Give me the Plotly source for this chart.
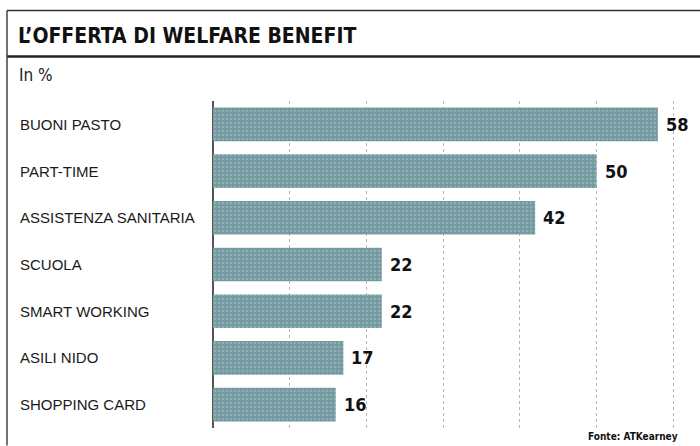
import plotly.graph_objects as go

categories = ["BUONI PASTO", "PART-TIME", "ASSISTENZA SANITARIA", "SCUOLA",
              "SMART WORKING", "ASILI NIDO", "SHOPPING CARD"]
values = [58, 50, 42, 22, 22, 17, 16]
title_text = "L\u2019OFFERTA DI WELFARE BENEFIT"
subtitle_text = "In %"
source_text = "Fonte: ATKearney"

W, H = 700, 446
L, R, T, B = 213, 3, 100.6, 17.6
pw, ph = W - L - R, H - T - B

def px(x):
    return (x - L) / pw

def py(y):
    return (H - B - y) / ph

bar_color = "#7299a0"
cond = "DejaVu Sans Condensed, sans-serif"
label_font = "Liberation Sans, Arial, sans-serif"

fig = go.Figure(go.Bar(
    x=values, y=categories, orientation="h",
    marker=dict(color=bar_color, line=dict(width=0),
                pattern=dict(shape=".", fgcolor="#a9c3c6", bgcolor=bar_color, size=4, solidity=0.35)),
    width=0.72, hoverinfo="skip",
))

annotations = []
for c, v in zip(categories, values):
    annotations.append(dict(x=v, y=c, xref="x", yref="y", text=str(v), showarrow=False,
                            xanchor="left", xshift=6,
                            font=dict(family=cond, size=18, color="#111111", weight="bold")))
    annotations.append(dict(x=px(18), y=c, xref="paper", yref="y", text=c, showarrow=False,
                            xanchor="left", font=dict(family=label_font, size=15, color="#1a1a1a")))

annotations += [
    dict(x=px(16), y=py(35), xref="paper", yref="paper", text=title_text, showarrow=False,
         xanchor="left", yanchor="middle",
         font=dict(family=cond, size=21, color="#111111", weight="bold")),
    dict(x=px(17), y=py(75), xref="paper", yref="paper", text=subtitle_text, showarrow=False,
         xanchor="left", yanchor="middle", font=dict(family=cond, size=17, color="#222222")),
    dict(x=px(680), y=py(437), xref="paper", yref="paper", text=source_text, showarrow=False,
         xanchor="right", yanchor="middle", font=dict(family=cond, size=10, color="#111111", weight="bold")),
]

shapes = [
    dict(type="line", xref="paper", yref="paper", x0=px(7), x1=px(700), y0=py(10), y1=py(10),
         line=dict(color="#333333", width=1.5)),
    dict(type="line", xref="paper", yref="paper", x0=px(7), x1=px(700), y0=py(56), y1=py(56),
         line=dict(color="#222222", width=2.5)),
    dict(type="line", xref="paper", yref="paper", x0=px(7), x1=px(7), y0=py(10), y1=py(446),
         line=dict(color="#444444", width=1.5)),
]

fig.update_layout(
    width=W, height=H, margin=dict(l=L, r=R, t=T, b=B),
    paper_bgcolor="white", plot_bgcolor="white", showlegend=False,
    xaxis=dict(range=[0, 63.1], dtick=10, showgrid=True, gridcolor="#b5b5b5", griddash="dot",
               gridwidth=1, zeroline=True, zerolinecolor="#555555", zerolinewidth=2,
               showticklabels=False, ticks="", fixedrange=True),
    yaxis=dict(categoryorder="array", categoryarray=categories[::-1], showticklabels=False,
               ticks="", showgrid=False, zeroline=False, range=[-0.5, 6.5], fixedrange=True),
    annotations=annotations, shapes=shapes,
)

fig.write_html("out.html")
